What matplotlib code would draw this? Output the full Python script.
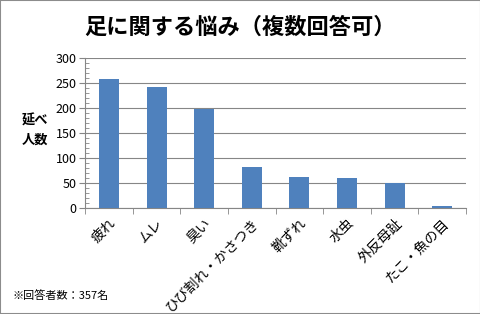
import numpy as np
import matplotlib.pyplot as plt
from matplotlib.ticker import MultipleLocator, FixedLocator

plt.rcParams['font.family'] = ['Noto Sans CJK JP', 'DejaVu Sans']

categories = ['疲れ', 'ムレ', '臭い', 'ひび割れ・かさつき', '靴ずれ', '水虫', '外反母趾', 'たこ・魚の目']
counts = [258, 242, 199, 82, 62, 60, 49, 3]

fig = plt.figure(figsize=(4.81, 3.14), dpi=100)
fig.patches.append(plt.Rectangle((0, 0), 1, 1, transform=fig.transFigure,
                                 fill=False, edgecolor='#8c8c8c', linewidth=1.5))
ax = fig.add_axes([0.177, 0.338, 0.792, 0.477])

x = np.arange(len(categories))
ax.bar(x, counts, width=0.42, color='#4F81BD', zorder=3)

ax.set_xlim(-0.5, len(categories) - 0.5)
ax.set_ylim(0, 300)
ax.yaxis.set_major_locator(MultipleLocator(50))
ax.yaxis.set_minor_locator(MultipleLocator(10))
ax.grid(axis='y', color='#868686', linewidth=0.8, zorder=0)

ax.set_xticks(x)
ax.set_xticklabels(categories, rotation=45, ha='right', rotation_mode='anchor', fontsize=10)
ax.tick_params(axis='x', length=0, pad=6)
ax.xaxis.set_minor_locator(FixedLocator(np.arange(-0.5, len(categories), 1)))
ax.tick_params(axis='x', which='minor', length=4, direction='out', color='#868686')
ax.tick_params(axis='y', which='major', length=4, direction='out', color='#868686', labelsize=9, pad=2)
ax.tick_params(axis='y', which='minor', length=3, direction='in', color='#868686')

for s in ['top', 'right']:
    ax.spines[s].set_visible(False)
ax.spines['left'].set_color('#868686')
ax.spines['bottom'].set_color('#868686')

fig.text(0.5, 0.912, '足に関する悩み（複数回答可）', ha='center', va='center',
         fontsize=16, fontweight='bold')
fig.text(0.073, 0.585, '延べ\n人数', ha='center', va='center', fontsize=9.5,
         fontweight='bold', linespacing=1.5)
fig.text(0.027, 0.06, '※回答者数：357名', ha='left', va='center', fontsize=8)

fig.savefig('out.png', dpi=100)
